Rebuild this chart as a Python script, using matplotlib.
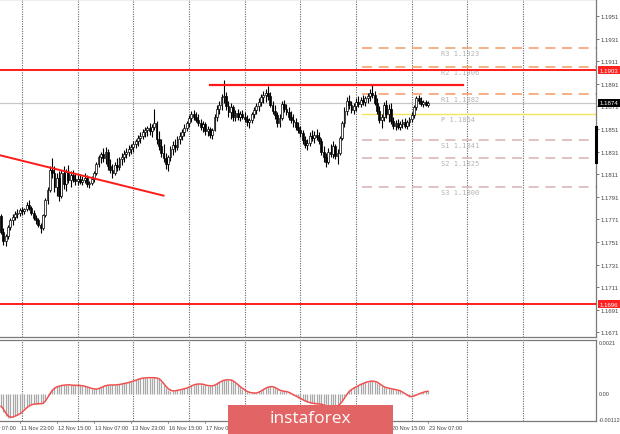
import numpy as np
import pandas as pd
import matplotlib
matplotlib.use('Agg')
import matplotlib.pyplot as plt
from matplotlib.transforms import blended_transform_factory
from matplotlib.patches import Rectangle

plt.rcParams['font.family'] = ['Liberation Sans', 'DejaVu Sans']

# EURUSD H1 bars, 11 Nov 15:00 -> 23 Nov 07:00 (one line per trading day)
first_bar = '2020-11-11 15:00'
opens = [
    1.1774, 1.1760, 1.1752, 1.1756, 1.1764, 1.1770, 1.1773, 1.1776, 1.1777,
    1.1779, 1.1778, 1.1780, 1.1784, 1.1781, 1.1777, 1.1772, 1.1770, 1.1766, 1.1763, 1.1775, 1.1788,
    1.1797, 1.1815, 1.1812, 1.1800, 1.1808, 1.1792, 1.1812, 1.1802, 1.1813, 1.1806, 1.1810, 1.1807,
    1.1805, 1.1807, 1.1804, 1.1806, 1.1808, 1.1802, 1.1803, 1.1807, 1.1812, 1.1820, 1.1826, 1.1829,
    1.1825, 1.1831, 1.1818, 1.1815, 1.1812, 1.1819, 1.1817, 1.1824, 1.1826, 1.1829, 1.1831, 1.1833,
    1.1835, 1.1838, 1.1840, 1.1843, 1.1845, 1.1848, 1.1850, 1.1852, 1.1849, 1.1853, 1.1856, 1.1842,
    1.1836, 1.1830, 1.1825, 1.1820, 1.1826, 1.1833, 1.1837, 1.1835, 1.1842, 1.1845, 1.1848, 1.1852,
    1.1856, 1.1861, 1.1864, 1.1862, 1.1859, 1.1856, 1.1853, 1.1855, 1.1849, 1.1851, 1.1846, 1.1850,
    1.1862, 1.1869, 1.1872, 1.1879, 1.1880, 1.1871, 1.1866, 1.1870, 1.1862, 1.1865, 1.1862, 1.1864,
    1.1862, 1.1860, 1.1857, 1.1859, 1.1864, 1.1868, 1.1871, 1.1875, 1.1879, 1.1881, 1.1883, 1.1880,
    1.1872, 1.1867, 1.1863, 1.1856, 1.1861, 1.1873, 1.1869, 1.1866, 1.1862, 1.1859, 1.1857, 1.1853,
    1.1850, 1.1847, 1.1841, 1.1837, 1.1839, 1.1845, 1.1843, 1.1846, 1.1844, 1.1840, 1.1831, 1.1826,
    1.1822, 1.1831, 1.1829, 1.1836, 1.1827, 1.1830, 1.1843, 1.1856, 1.1867, 1.1876, 1.1872, 1.1868,
    1.1871, 1.1875, 1.1873, 1.1877, 1.1875, 1.1878, 1.1880, 1.1883, 1.1881, 1.1874, 1.1867, 1.1859,
    1.1862, 1.1872, 1.1864, 1.1869, 1.1858, 1.1854, 1.1856, 1.1853, 1.1855, 1.1857, 1.1854, 1.1857,
    1.1860, 1.1863, 1.1870, 1.1878, 1.1876, 1.1873, 1.1875, 1.1872,
]
highs = [
    1.1776, 1.1763, 1.1758, 1.1766, 1.1772, 1.1776, 1.1778, 1.1780, 1.1781,
    1.1782, 1.1781, 1.1786, 1.1788, 1.1783, 1.1779, 1.1775, 1.1772, 1.1768, 1.1776, 1.1790, 1.1800,
    1.1818, 1.1825, 1.1818, 1.1812, 1.1814, 1.1815, 1.1818, 1.1816, 1.1819, 1.1814, 1.1815, 1.1812,
    1.1810, 1.1811, 1.1809, 1.1812, 1.1810, 1.1805, 1.1809, 1.1814, 1.1822, 1.1828, 1.1831, 1.1834,
    1.1835, 1.1833, 1.1824, 1.1820, 1.1822, 1.1825, 1.1826, 1.1830, 1.1832, 1.1834, 1.1837, 1.1838,
    1.1840, 1.1842, 1.1846, 1.1848, 1.1851, 1.1853, 1.1854, 1.1856, 1.1855, 1.1869, 1.1858, 1.1849,
    1.1842, 1.1838, 1.1830, 1.1828, 1.1836, 1.1840, 1.1842, 1.1845, 1.1848, 1.1851, 1.1855, 1.1858,
    1.1863, 1.1867, 1.1868, 1.1866, 1.1864, 1.1860, 1.1858, 1.1857, 1.1854, 1.1853, 1.1852, 1.1864,
    1.1872, 1.1876, 1.1882, 1.1894, 1.1884, 1.1876, 1.1874, 1.1872, 1.1868, 1.1869, 1.1867, 1.1868,
    1.1866, 1.1863, 1.1861, 1.1866, 1.1870, 1.1874, 1.1878, 1.1882, 1.1885, 1.1886, 1.1889, 1.1884,
    1.1876, 1.1872, 1.1866, 1.1864, 1.1876, 1.1877, 1.1873, 1.1870, 1.1867, 1.1864, 1.1861, 1.1857,
    1.1854, 1.1850, 1.1845, 1.1842, 1.1848, 1.1850, 1.1849, 1.1851, 1.1848, 1.1843, 1.1836, 1.1830,
    1.1834, 1.1838, 1.1840, 1.1838, 1.1833, 1.1845, 1.1858, 1.1870, 1.1879, 1.1881, 1.1876, 1.1874,
    1.1878, 1.1880, 1.1879, 1.1881, 1.1880, 1.1883, 1.1886, 1.1891, 1.1885, 1.1878, 1.1871, 1.1864,
    1.1875, 1.1877, 1.1873, 1.1874, 1.1862, 1.1859, 1.1860, 1.1858, 1.1860, 1.1861, 1.1859, 1.1862,
    1.1866, 1.1872, 1.1880, 1.1881, 1.1879, 1.1877, 1.1877, 1.1876,
]
lows = [
    1.1758, 1.1748, 1.1747, 1.1754, 1.1762, 1.1766, 1.1770, 1.1772, 1.1774,
    1.1775, 1.1776, 1.1778, 1.1779, 1.1775, 1.1770, 1.1767, 1.1764, 1.1759, 1.1762, 1.1773, 1.1785,
    1.1795, 1.1808, 1.1795, 1.1792, 1.1787, 1.1790, 1.1798, 1.1796, 1.1803, 1.1800, 1.1804, 1.1801,
    1.1801, 1.1802, 1.1801, 1.1803, 1.1800, 1.1799, 1.1801, 1.1804, 1.1810, 1.1817, 1.1821, 1.1822,
    1.1820, 1.1815, 1.1812, 1.1808, 1.1810, 1.1814, 1.1815, 1.1819, 1.1822, 1.1825, 1.1827, 1.1829,
    1.1831, 1.1834, 1.1836, 1.1839, 1.1842, 1.1844, 1.1845, 1.1846, 1.1844, 1.1850, 1.1838, 1.1832,
    1.1826, 1.1822, 1.1816, 1.1814, 1.1823, 1.1828, 1.1831, 1.1832, 1.1838, 1.1841, 1.1845, 1.1849,
    1.1853, 1.1857, 1.1859, 1.1857, 1.1854, 1.1850, 1.1848, 1.1846, 1.1845, 1.1843, 1.1842, 1.1849,
    1.1858, 1.1864, 1.1868, 1.1874, 1.1868, 1.1862, 1.1860, 1.1858, 1.1858, 1.1859, 1.1858, 1.1860,
    1.1857, 1.1854, 1.1852, 1.1856, 1.1861, 1.1864, 1.1867, 1.1871, 1.1874, 1.1875, 1.1877, 1.1870,
    1.1864, 1.1860, 1.1853, 1.1853, 1.1859, 1.1866, 1.1863, 1.1859, 1.1856, 1.1853, 1.1850, 1.1847,
    1.1844, 1.1838, 1.1834, 1.1832, 1.1836, 1.1840, 1.1839, 1.1841, 1.1838, 1.1828, 1.1822, 1.1817,
    1.1820, 1.1826, 1.1825, 1.1824, 1.1820, 1.1828, 1.1841, 1.1853, 1.1863, 1.1869, 1.1865, 1.1864,
    1.1867, 1.1870, 1.1870, 1.1872, 1.1871, 1.1874, 1.1876, 1.1878, 1.1872, 1.1864, 1.1856, 1.1852,
    1.1858, 1.1861, 1.1857, 1.1855, 1.1851, 1.1850, 1.1851, 1.1850, 1.1852, 1.1852, 1.1851, 1.1854,
    1.1857, 1.1861, 1.1868, 1.1873, 1.1871, 1.1870, 1.1871, 1.1870,
]
closes = [
    1.1760, 1.1752, 1.1756, 1.1764, 1.1770, 1.1773, 1.1776, 1.1777, 1.1779,
    1.1778, 1.1780, 1.1784, 1.1781, 1.1777, 1.1772, 1.1770, 1.1766, 1.1763, 1.1775, 1.1788, 1.1797,
    1.1815, 1.1812, 1.1800, 1.1808, 1.1792, 1.1812, 1.1802, 1.1813, 1.1806, 1.1810, 1.1807, 1.1805,
    1.1807, 1.1804, 1.1806, 1.1808, 1.1802, 1.1803, 1.1807, 1.1812, 1.1820, 1.1826, 1.1829, 1.1825,
    1.1831, 1.1818, 1.1815, 1.1812, 1.1819, 1.1817, 1.1824, 1.1826, 1.1829, 1.1831, 1.1833, 1.1835,
    1.1838, 1.1840, 1.1843, 1.1845, 1.1848, 1.1850, 1.1852, 1.1849, 1.1853, 1.1856, 1.1842, 1.1836,
    1.1830, 1.1825, 1.1820, 1.1826, 1.1833, 1.1837, 1.1835, 1.1842, 1.1845, 1.1848, 1.1852, 1.1856,
    1.1861, 1.1864, 1.1862, 1.1859, 1.1856, 1.1853, 1.1855, 1.1849, 1.1851, 1.1846, 1.1850, 1.1862,
    1.1869, 1.1872, 1.1879, 1.1880, 1.1871, 1.1866, 1.1870, 1.1862, 1.1865, 1.1862, 1.1864, 1.1862,
    1.1860, 1.1857, 1.1859, 1.1864, 1.1868, 1.1871, 1.1875, 1.1879, 1.1881, 1.1883, 1.1880, 1.1872,
    1.1867, 1.1863, 1.1856, 1.1861, 1.1873, 1.1869, 1.1866, 1.1862, 1.1859, 1.1857, 1.1853, 1.1850,
    1.1847, 1.1841, 1.1837, 1.1839, 1.1845, 1.1843, 1.1846, 1.1844, 1.1840, 1.1831, 1.1826, 1.1822,
    1.1831, 1.1829, 1.1836, 1.1827, 1.1830, 1.1843, 1.1856, 1.1867, 1.1876, 1.1872, 1.1868, 1.1871,
    1.1875, 1.1873, 1.1877, 1.1875, 1.1878, 1.1880, 1.1883, 1.1881, 1.1874, 1.1867, 1.1859, 1.1862,
    1.1872, 1.1864, 1.1869, 1.1858, 1.1854, 1.1856, 1.1853, 1.1855, 1.1857, 1.1854, 1.1857, 1.1860,
    1.1863, 1.1870, 1.1878, 1.1876, 1.1873, 1.1875, 1.1872, 1.1874,
]

# MACD panel, in units of 0.00001
hist_1e5 = [
    -54, -75, -92, -99, -97, -93, -88, -83, -78,
    -68, -58, -50, -45, -42, -40, -40, -40, -39, -37, -20, -5, 10, 22, 28, 32, 34, 36, 37, 38, 38, 37, 36, 35,
    36, 36, 34, 31, 27, 24, 22, 20, 20, 24, 29, 33, 36, 37, 37, 36, 37, 38, 40, 42, 44, 45, 48, 51,
    55, 58, 62, 64, 66, 67, 67, 67, 67, 68, 66, 62, 50, 38, 26, 17, 13, 12, 14, 16, 18, 20, 23, 25,
    30, 35, 39, 41, 41, 41, 39, 36, 34, 33, 33, 38, 44, 50, 55, 58, 59, 58, 58, 52, 44, 36, 28, 20,
    14, 8, 5, 4, 4, 4, 9, 15, 21, 26, 30, 31, 30, 25, 19, 14, 12, 11, 10, 5, 0, -5, -10, -15,
    -20, -25, -30, -33, -36, -38, -40, -41, -41, -43, -46, -50, -53, -54, -54, -52, -48, -37, -25, -10, 5, 15, 22, 25,
    31, 36, 40, 44, 48, 51, 53, 54, 52, 47, 40, 33, 28, 25, 23, 21, 19, 17, 16, 11, 6, 0, -6, -12,
    -10, -6, -2, 2, 6, 9, 11, 12,
]
signal_1e5 = [
    -50, -62, -78, -90, -95, -95, -91, -87, -82,
    -75, -66, -57, -50, -45, -42, -41, -40, -40, -39, -30, -16, 0, 14, 23, 29, 32, 35, 36, 37, 38, 37, 36, 36,
    35, 35, 34, 32, 29, 26, 23, 21, 20, 22, 26, 30, 34, 36, 37, 37, 37, 38, 39, 41, 43, 45, 47, 50,
    53, 56, 60, 63, 65, 66, 67, 67, 67, 67, 66, 63, 55, 44, 32, 22, 16, 13, 13, 15, 17, 19, 22, 24,
    28, 33, 37, 40, 41, 41, 40, 37, 35, 34, 33, 36, 41, 47, 52, 56, 58, 58, 58, 54, 47, 39, 31, 24,
    17, 11, 7, 5, 4, 4, 7, 12, 18, 23, 28, 30, 30, 27, 22, 16, 13, 11, 10, 7, 2, -3, -8, -13,
    -18, -23, -28, -32, -35, -37, -39, -40, -41, -42, -45, -48, -51, -53, -54, -53, -50, -42, -31, -17, -2, 10, 18, 24,
    29, 34, 39, 43, 47, 50, 52, 53, 52, 49, 43, 36, 30, 26, 24, 22, 20, 18, 16, 13, 8, 2, -4, -9,
    -11, -8, -4, 0, 4, 7, 10, 11,
]

price_ticks = [1.1951, 1.1931, 1.1911, 1.1891, 1.1871, 1.1851, 1.1831, 1.1811,
               1.1791, 1.1771, 1.1751, 1.1731, 1.1711, 1.1691, 1.1671]
time_labels = ['11 Nov 07:00', '11 Nov 23:00', '12 Nov 15:00', '13 Nov 07:00',
               '13 Nov 23:00', '16 Nov 15:00', '17 Nov 07:00', '17 Nov 23:00',
               '18 Nov 15:00', '19 Nov 07:00', '19 Nov 23:00', '20 Nov 15:00',
               '23 Nov 07:00']
last_price = 1.1874
red_levels = [1.1903, 1.1696]
resistance = (1.1890, '2020-11-17 09:00', '2020-11-23 22:00')
trend = (('2020-11-11 12:00', 1.1829), ('2020-11-16 13:00', 1.1792))
pivot_names = ['R3', 'R2', 'R1', 'P', 'S1', 'S2', 'S3']
pivot_values = [1.1923, 1.1906, 1.1882, 1.1864, 1.1841, 1.1825, 1.1800]
osc_labels = [(0.0021, '0.0021'), (0.0, '0.00'), (-0.00103, '-0.00112')]

# trading-hour time axis (weekends skipped, like MT4)
hours = pd.date_range('2020-11-09 00:00', '2020-11-25 23:00', freq='h')
hours = hours[hours.dayofweek < 5]
offset = hours.get_loc(pd.Timestamp(first_bar))


def pos(t):
    t = pd.Timestamp(t)
    return hours.get_loc(t.floor('h')) - offset + (t - t.floor('h')) / pd.Timedelta('1h')


n = len(closes)
x = np.arange(n)
o, h, l, c = (np.array(v) for v in (opens, highs, lows, closes))

W, H = 620, 435
fig = plt.figure(figsize=(W / 100, H / 100), dpi=100)
ax = fig.add_axes([0, 1 - 338 / H, 596 / W, 338 / H])
osc = fig.add_axes([0, 1 - 422 / H, 596 / W, 81 / H])
xlim = (-0.474, 256.4)
for a in (ax, osc):
    a.set_xlim(*xlim)
    for s in a.spines.values():
        s.set_color('#7a7a7a')
        s.set_linewidth(0.9)
    a.spines['left'].set_visible(False)
    # day separators
    for t in hours[hours.hour == 0]:
        a.axvline(pos(t), color='#666666', lw=0.8, ls=(0, (1, 1.2)), zorder=0)
ax.set_ylim(1.16669, 1.19660)
osc.set_ylim(-0.00111, 0.00222)

# candles
ax.vlines(x, l, h, color='black', lw=0.8, zorder=3)
bull = c >= o
ax.bar(x[bull], (c - o)[bull], bottom=o[bull], width=0.8, color='white',
       edgecolor='black', linewidth=0.5, zorder=4)
ax.bar(x[~bull], (o - c)[~bull], bottom=c[~bull], width=0.8, color='black',
       edgecolor='black', linewidth=0.5, zorder=4)

# levels
ax.axhline(last_price, color='#c8c8c8', lw=0.9, zorder=1)
for lv in red_levels:
    ax.axhline(lv, color='#ff1a1a', lw=1.4, zorder=5)
ax.plot([pos(resistance[1]), pos(resistance[2])], [resistance[0]] * 2,
        color='#ff1a1a', lw=1.6, zorder=5)
ax.plot([pos(trend[0][0]), pos(trend[1][0])], [trend[0][1], trend[1][1]],
        color='#ff1a1a', lw=1.4, zorder=5)

piv_start = pos('2020-11-20 02:40')
piv_label = pos('2020-11-23 12:30')
for name, val in zip(pivot_names, pivot_values):
    if name == 'P':
        ax.plot([piv_start, xlim[1]], [val, val], color='#f7e35a', lw=1.0, zorder=2)
    else:
        col = '#f5a36e' if name.startswith('R') else '#dcb8b8'
        ax.plot([piv_start, xlim[1]], [val, val], color=col, lw=1.2,
                ls=(0, (6, 4)), zorder=2)
    ax.annotate(f'{name} {val:.4f}', (piv_label, val), xytext=(0, -1.5),
                textcoords='offset points', va='top', ha='left',
                fontsize=5, family='DejaVu Sans Mono', color='#b4b4b4', zorder=2)

# right price scale
ax.yaxis.tick_right()
ax.set_yticks(price_ticks)
ax.set_yticklabels([f'{p:.4f}' for p in price_ticks])
ax.tick_params(axis='y', length=2, width=0.5, labelsize=4.3, pad=1.5,
               colors='#444444')
ax.set_xticks([])
tr = blended_transform_factory(ax.transAxes, ax.transData)
ax.text(1.006, last_price, f'{last_price:.4f}', transform=tr, fontsize=4.4,
        color='white', va='center', ha='left', clip_on=False, zorder=10,
        bbox=dict(boxstyle='square,pad=0.25', fc='black', ec='none'))
for lv in red_levels:
    ax.text(1.006, lv, f'{lv:.4f}', transform=tr, fontsize=4.4, color='white',
            va='center', ha='left', clip_on=False, zorder=10,
            bbox=dict(boxstyle='square,pad=0.25', fc='#ff2020', ec='none'))
ax.plot([1.0, 1.0], [1.18528, 1.18218], transform=tr, color='black', lw=2.2,
        clip_on=False, zorder=10)

# MACD panel
hist = np.array(hist_1e5) / 1e5
sig = np.array(signal_1e5) / 1e5
osc.vlines(x, 0, hist, color='#a8a8a8', lw=0.9, zorder=2)
osc.plot(x, sig, color='#f05050', lw=1.1, zorder=3)
osc.set_yticks([])
osc.set_xticks([])
otr = blended_transform_factory(osc.transAxes, osc.transData)
for val, txt in osc_labels:
    osc.text(1.005, val, txt, transform=otr, fontsize=4.0, color='#444444',
             va='center', ha='left', clip_on=False)

# time labels
xtr = blended_transform_factory(osc.transData, osc.transAxes)
for lab in time_labels:
    p = pos(pd.Timestamp('2020 ' + lab))
    osc.text(p + 0.4, -0.075, lab, transform=xtr, fontsize=4.0, color='#444444',
             ha='left', va='center', clip_on=False)
    osc.plot([p, p], [0, -0.025], transform=xtr, color='#666666', lw=0.5,
             clip_on=False)

# instaforex badge
fig.patches.append(Rectangle((228 / W, 0), 165 / W, 29 / H, transform=fig.transFigure,
                             facecolor='#e26464', edgecolor='none', zorder=20))
fig.text(310 / W, 15.5 / H, 'instaforex', color='white', fontsize=12.5,
         family='Open Sans', ha='center', va='center', zorder=21)

fig.savefig('out.png', dpi=100)
